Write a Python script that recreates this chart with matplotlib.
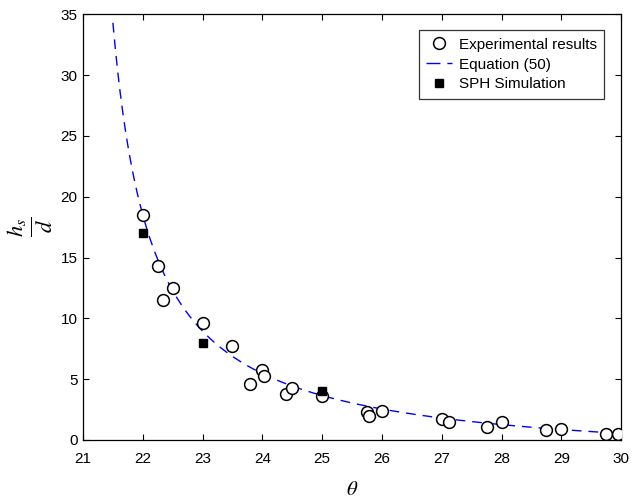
import numpy as np
import matplotlib
matplotlib.use("Agg")
import matplotlib.pyplot as plt
from matplotlib.lines import Line2D

plt.rcParams["font.family"] = ["Liberation Sans", "DejaVu Sans"]
plt.rcParams["mathtext.fontset"] = "stix"

# Experimental results: slope angle vs. normalised scour depth
exp_theta = [22.0, 22.25, 22.33, 22.5, 23.0, 23.5, 23.8, 24.0, 24.02, 24.4, 24.5,
             25.0, 25.75, 25.78, 26.0, 27.0, 27.12, 27.75, 28.0, 28.75, 29.0,
             29.75, 29.95]
exp_h = [18.5, 14.3, 11.5, 12.5, 9.6, 7.7, 4.6, 5.75, 5.3, 3.8, 4.3,
         3.6, 2.3, 2.0, 2.4, 1.7, 1.45, 1.1, 1.5, 0.8, 0.9,
         0.5, 0.5]

# SPH simulation results
sph_theta = [22.0, 23.0, 25.0]
sph_h = [17.0, 8.0, 4.05]

# Equation (50): h/d = A / (theta - theta0) - B
eq_A, eq_theta0, eq_B = 23.62, 20.85, 2.04
eq_range = (21.5, 29.7)

theta_line = np.linspace(eq_range[0], eq_range[1], 400)
h_line = eq_A / (theta_line - eq_theta0) - eq_B

fig = plt.figure(figsize=(6.41, 4.98), dpi=100)
ax = fig.add_axes([0.1295, 0.1165, 0.8395, 0.8548])

h_exp, = ax.plot(exp_theta, exp_h, linestyle="none", marker="o", markersize=8.5,
                 markerfacecolor="white", markeredgecolor="black",
                 markeredgewidth=1.1, zorder=3)
ax.plot(theta_line, h_line, color="#0000ff", linewidth=1.0, dashes=(7, 5),
        zorder=2)
h_sph, = ax.plot(sph_theta, sph_h, linestyle="none", marker="s", markersize=6,
                 color="black", zorder=4)

ax.set_xlim(21, 30)
ax.set_ylim(0, 35)
ax.set_xticks(range(21, 31))
ax.set_yticks(range(0, 36, 5))
ax.tick_params(direction="in", top=True, right=True, length=4, width=0.8,
               labelsize=11)
ax.tick_params(axis="x", pad=9)
ax.tick_params(axis="y", pad=4)
for s in ax.spines.values():
    s.set_linewidth(0.9)
    s.set_color("black")

ax.set_xlabel(r"$\theta$", fontsize=15, labelpad=10)
ax.set_ylabel(r"$\frac{h_s}{d}$", fontsize=23, labelpad=4)

# Legend handle for the equation uses longer dashes
h_eq = Line2D([], [], color="#0000ff", linewidth=1.0, dashes=(10, 5))
leg = ax.legend([h_exp, h_eq, h_sph],
                ["Experimental results", "Equation (50)", "SPH Simulation"],
                loc="upper right", bbox_to_anchor=(0.968, 0.962),
                borderaxespad=0, fontsize=11, frameon=True, fancybox=False,
                edgecolor="black", handlelength=1.7, handletextpad=0.4,
                labelspacing=0.38, borderpad=0.48)
leg.get_frame().set_linewidth(0.9)

fig.savefig("out.png", dpi=100)
